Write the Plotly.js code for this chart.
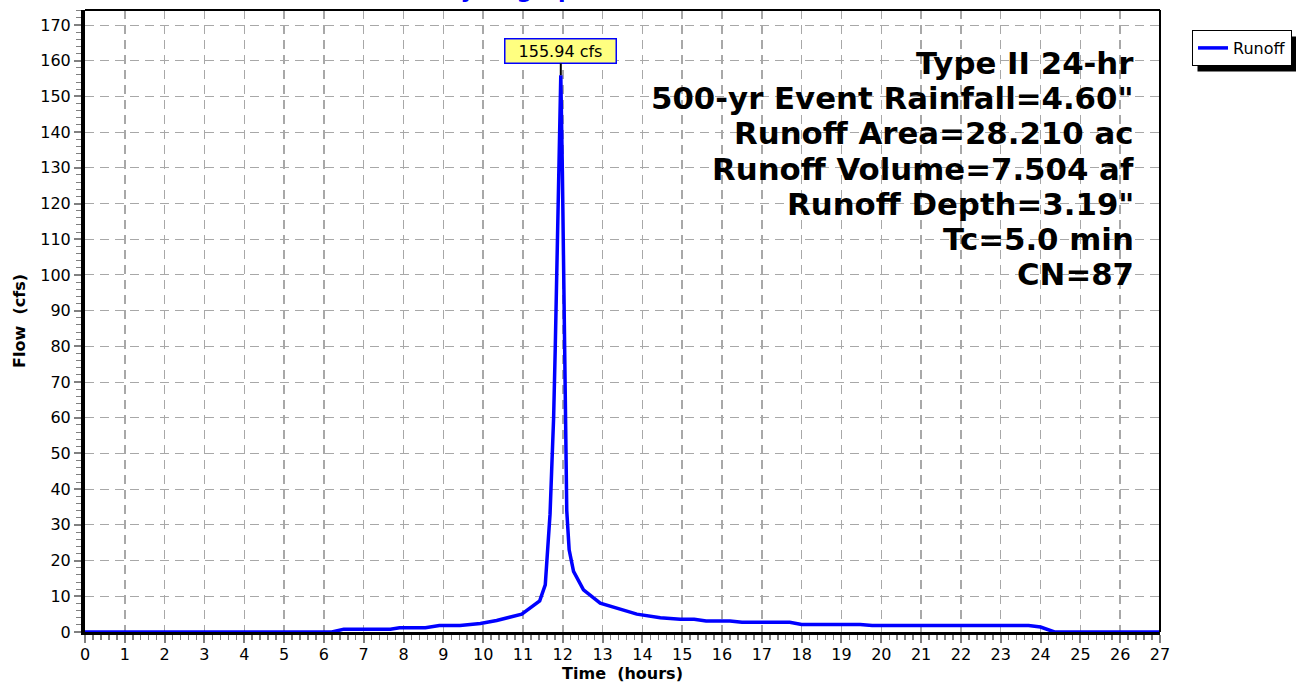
<!DOCTYPE html>
<html>
<head>
<meta charset="utf-8">
<script src="https://cdn.plot.ly/plotly-3.0.1.min.js"></script>
<style>
html,body{margin:0;padding:0;background:#fff;}
#chart{width:1296px;height:686px;}
</style>
</head>
<body>
<div id="chart"></div>
<script>
// ---- data ----
const timeHours = [0, 6.2, 6.5, 7.67, 7.9, 8.55, 8.9, 9.42, 9.93, 10.34, 10.97, 11.42, 11.56, 11.62, 11.68, 11.72, 11.77, 11.81, 11.85, 11.89, 11.95, 11.99, 12.04, 12.10, 12.16, 12.27, 12.52, 12.94, 13.86, 14.45, 14.95, 15.3, 15.6, 16.2, 16.5, 17.7, 18.0, 19.47, 19.77, 23.7, 24.0, 24.25, 24.35, 27];
const flowCfs   = [0, 0, 0.8, 0.8, 1.2, 1.2, 1.8, 1.8, 2.4, 3.2, 5.0, 8.7, 13.2, 22, 33, 45, 60, 79, 100, 123, 155.94, 129, 76, 34, 23, 17, 11.8, 8.1, 5.0, 4.0, 3.6, 3.6, 3.1, 3.1, 2.7, 2.7, 2.1, 2.1, 1.8, 1.8, 1.4, 0.4, 0, 0];
const seriesName = "Runoff";
const peakTime = 11.95;
const peakFlow = 155.94;
const peakLabel = "155.94 cfs";
const infoLines = [
  "Type II 24-hr",
  "500-yr Event Rainfall=4.60\"",
  "Runoff Area=28.210 ac",
  "Runoff Volume=7.504 af",
  "Runoff Depth=3.19\"",
  "Tc=5.0 min",
  "CN=87"
];
const chartTitle = "Hydrograph";
const xTitle = "Time\u00a0 (hours)";
const yTitle = "Flow\u00a0 (cfs)";

// ---- layout geometry (pixels) ----
const W = 1296, H = 686;
const plotL = 85, plotR = 1160, plotT = 10, plotB = 632;
const pw = plotR - plotL, ph = plotB - plotT;
const px2x = p => (p - plotL) / pw;
const py2y = p => (plotB - p) / ph;

const FONT = "DejaVu Sans, Verdana, sans-serif";

const annotations = [];
const infoTop = 63, infoStep = 35.2;
infoLines.forEach((t, i) => {
  annotations.push({
    xref: "paper", yref: "paper",
    x: px2x(1136), y: py2y(infoTop + i * infoStep),
    xanchor: "right", yanchor: "middle",
    text: "<b>" + t + "</b>", showarrow: false,
    font: {family: FONT, size: 30.8, color: "#000"}
  });
});
annotations.push({
  xref: "x", yref: "y", x: peakTime, y: peakFlow,
  text: peakLabel, showarrow: true, arrowhead: 0, arrowwidth: 2, arrowcolor: "#000",
  ax: 0, ay: -24, standoff: 0, width: 108, height: 21,
  bgcolor: "#ffff80", bordercolor: "#0000ff", borderwidth: 1.5, borderpad: 1,
  font: {family: FONT, size: 16, color: "#000"}
});
annotations.push({
  xref: "paper", yref: "paper", x: px2x(515), y: py2y(5),
  xanchor: "center", yanchor: "bottom",
  text: "<b>" + chartTitle + "</b>", showarrow: false,
  font: {family: FONT, size: 22, color: "#0000ff"}
});

const shapes = [
  {type: "line", xref: "paper", yref: "paper", x0: 0, x1: 1, y0: 1, y1: 1, line: {color: "#000", width: 2}},
  {type: "line", xref: "paper", yref: "paper", x0: 1, x1: 1, y0: 0, y1: 1, line: {color: "#000", width: 2}},
  {type: "rect", xref: "paper", yref: "paper", layer: "below",
   x0: px2x(1198), x1: px2x(1290), y0: py2y(66), y1: py2y(38),
   fillcolor: "#000", line: {width: 0}}
];

const trace = {
  x: timeHours, y: flowCfs, type: "scatter", mode: "lines", name: seriesName,
  line: {color: "#0000ff", width: 3.5}, cliponaxis: false
};

const layout = {
  width: W, height: H,
  margin: {l: plotL, r: W - plotR, t: plotT, b: H - plotB, pad: 0, autoexpand: false},
  paper_bgcolor: "#fff", plot_bgcolor: "#fff",
  font: {family: FONT, size: 16, color: "#000"},
  showlegend: true,
  legend: {
    x: px2x(1192), y: py2y(30), xanchor: "left", yanchor: "top",
    bgcolor: "#fff", bordercolor: "#000", borderwidth: 1,
    font: {family: FONT, size: 16, color: "#000"},
    itemwidth: 30, tracegroupgap: 0
  },
  xaxis: {
    range: [0, 27], dtick: 1, tick0: 0,
    ticks: "outside", ticklen: 8, tickcolor: "#808080", tickwidth: 2,
    showgrid: true, gridcolor: "#a8a8a8", gridwidth: 1.5, griddash: "9px,6px",
    minor: {dtick: 0.2, ticks: "outside", ticklen: 5, tickcolor: "#808080", tickwidth: 1.5, showgrid: false},
    showline: true, linecolor: "#000", linewidth: 3,
    zeroline: false,
    tickfont: {family: FONT, size: 16, color: "#000"},
    ticklabelstandoff: -2,
    title: {text: "<b>" + xTitle + "</b>", font: {family: FONT, size: 16, color: "#000"}, standoff: 3},
    layer: "above traces"
  },
  yaxis: {
    range: [0, 174.2], dtick: 10, tick0: 0,
    ticks: "outside", ticklen: 7, tickcolor: "#808080", tickwidth: 2,
    showgrid: true, gridcolor: "#a8a8a8", gridwidth: 1, griddash: "9px,6px",
    minor: {dtick: 2, ticks: "outside", ticklen: 5, tickcolor: "#808080", tickwidth: 1, showgrid: false},
    showline: true, linecolor: "#000", linewidth: 4,
    zeroline: false,
    tickfont: {family: FONT, size: 16, color: "#000"},
    title: {text: "<b>" + yTitle + "</b>", font: {family: FONT, size: 16, color: "#000"}, standoff: 12},
    layer: "above traces"
  },
  annotations: annotations,
  shapes: shapes
};

Plotly.newPlot("chart", [trace], layout, {displayModeBar: false, staticPlot: true}).then(gd => {
  const bg = gd.querySelector(".legend .bg");
  if (bg) {
    const r = bg.getBoundingClientRect();
    const c = gd.getBoundingClientRect();
    const left = r.left - c.left, top = r.top - c.top;
    const sh = gd.layout.shapes.slice();
    sh[2] = Object.assign({}, sh[2], {
      x0: px2x(left + 5), x1: px2x(left + r.width + 5),
      y0: py2y(top + r.height + 6), y1: py2y(top + 6)
    });
    Plotly.relayout(gd, {shapes: sh});
  }
});
</script>
</body>
</html>
